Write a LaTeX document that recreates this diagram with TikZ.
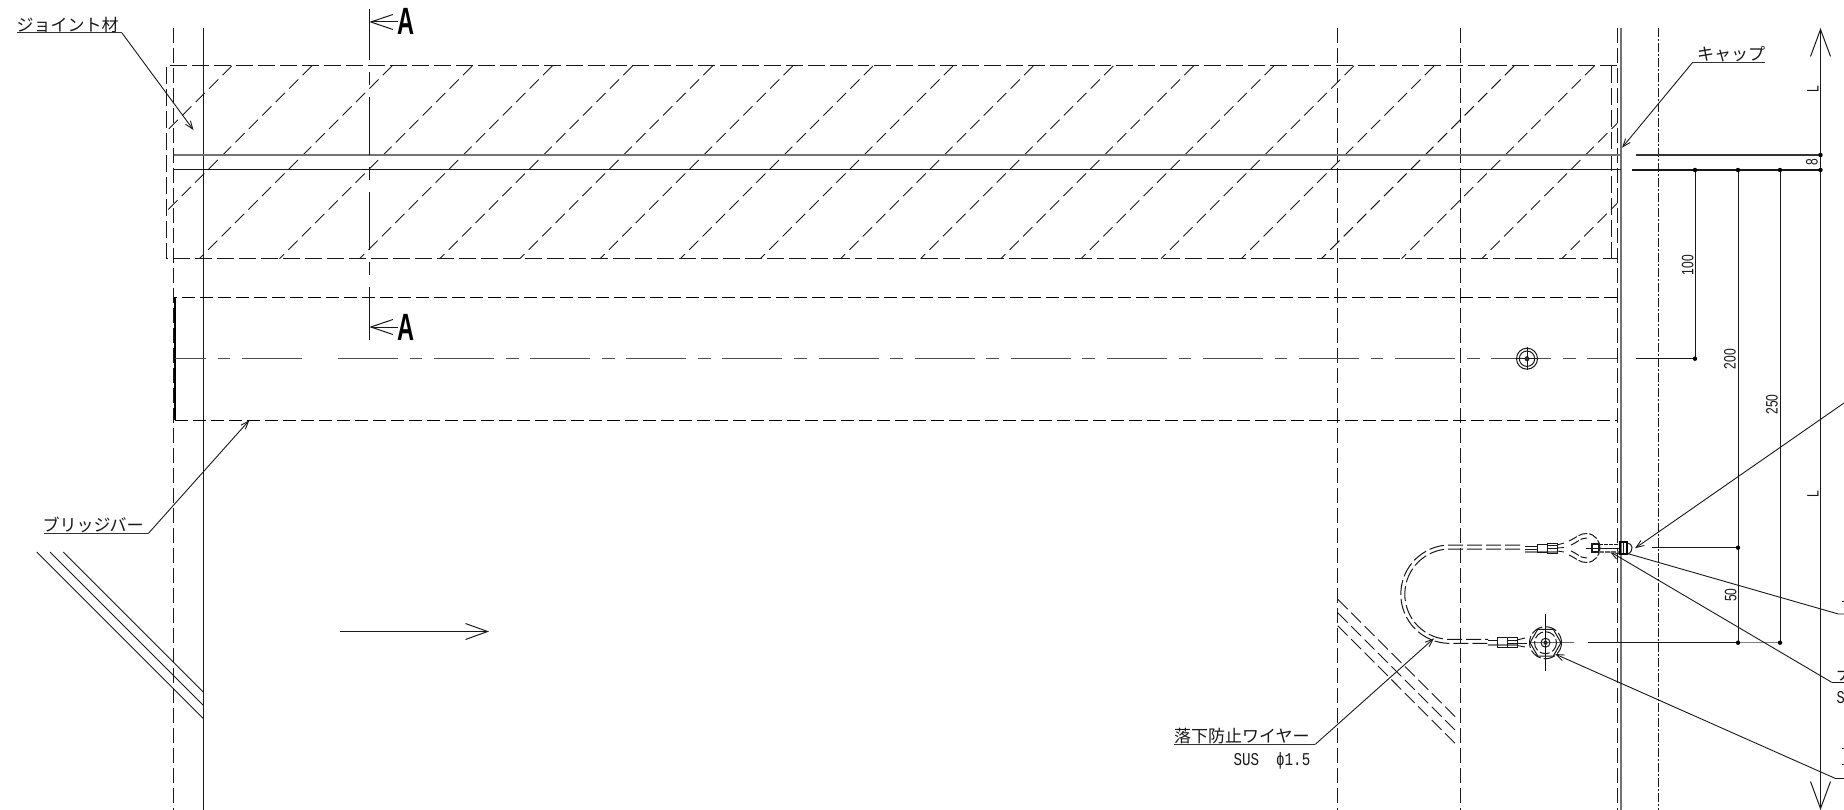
\documentclass[tikz,border=0pt]{standalone}
\usepackage{fontspec}
\setmainfont{Liberation Sans}
\newfontfamily\cjkfont{Noto Sans CJK JP}
\newfontfamily\monofont{Liberation Mono}
\usetikzlibrary{arrows.meta}
\tikzset{
  ln/.style={line width=1pt,draw=black!90},
  heavy/.style={line width=1.5pt,draw=black!55},
  darkln/.style={line width=1.4pt,draw=black!80},
  vdash/.style={ln,dash pattern=on 15pt off 5pt},
  rectdash/.style={ln,dash pattern=on 17pt off 5pt},
  bardash/.style={line width=1.1pt,draw=black,dash pattern=on 13pt off 5pt},
  hatchln/.style={line width=0.9pt,draw=black!90,dash pattern=on 13pt off 6pt},
  wire/.style={line width=1pt,draw=black!90,dash pattern=on 15pt off 4pt},
  fine/.style={line width=0.9pt,draw=black!90},
  eye/.style={line width=1pt,draw=black!90,dash pattern=on 9pt off 2pt},
  leader/.style={line width=0.9pt,draw=black!90,-{Straight Barb[length=8pt,width=6pt]}},
  plainleader/.style={line width=1pt,draw=black!80},
  bigtip/.style={ln,-{Straight Barb[length=22pt,width=15pt]}},
  ltip/.style={ln,{Straight Barb[length=27pt,width=20pt]}-{Straight Barb[length=27pt,width=20pt]}},
  dot/.style={circle,fill=black,inner sep=0pt,minimum size=4.4pt},
  cjk/.style={font=\cjkfont\fontsize{17pt}{18pt}\selectfont,inner sep=0pt,anchor=base west,text=black!90},
  dimt/.style={rotate=90,inner sep=0pt,anchor=center,text=black!90},
  bigA/.style={inner sep=0pt,anchor=center},
}
\newcommand{\dimtxt}[1]{\scalebox{0.73}[1]{\fontsize{16.5pt}{17pt}\selectfont #1}}
\newcommand{\secA}{\scalebox{0.62}[1]{\bfseries\fontsize{38pt}{38pt}\selectfont A}}
\begin{document}
\begin{tikzpicture}[x=1pt,y=-1pt]
\useasboundingbox[fill=white] (0,0) rectangle (1844,810);

% --- long verticals
\draw[ln] (203.7,28) -- (203.7,810);
\draw[vdash] (173.5,28) -- (173.5,810);
\draw[vdash] (1337.3,28) -- (1337.3,810);
\draw[vdash] (1460.3,28) -- (1460.3,810);
\draw[vdash] (1617.3,28) -- (1617.3,810);
\draw[heavy] (1621,28) -- (1621,810);
\draw[line width=0.85pt,draw=black!90,dash pattern=on 9pt off 2pt on 2pt off 2pt] (1658.7,28) -- (1658.7,810);

% --- joint hatch rectangle
\draw[rectdash] (1617,66) -- (166.5,66) -- (166.5,258.7) -- (1617,258.7);
\draw[rectdash] (1611,66) -- (1611,258.7);
\begin{scope}
  \clip (166.5,66) rectangle (1617.3,258.7);
  \foreach \k in {0,...,19}{
    \pgfmathsetmacro{\xt}{231.7+80.15*\k}
    \pgfmathsetmacro{\xb}{\xt-192.7}
    \draw[hatchln] (\xt,66) -- (\xb,258.7);
  }
\end{scope}

% --- horizontal joint lines
\draw[heavy] (173.5,155) -- (1621,155);
\draw[ln] (173.5,170) -- (1621,170);
\draw[darkln] (1636,155) -- (1820.5,155);
\draw[ln,line width=1.2pt] (1632,170) -- (1820.5,170);

% --- bridge bar
\draw[bardash] (1617,297.3) -- (175,297.3);
\draw[bardash] (175,420.3) -- (1617,420.3);
\draw[line width=1.1pt,draw=black] (175,297.3) -- (175,420.3);
\draw[line width=1.1pt,draw=black!70,dash pattern=on 60pt off 11.7pt on 12.7pt off 11.7pt,dash phase=29pt] (175,358.7) -- (302,358.7);
\draw[line width=1.1pt,draw=black!70,dash pattern=on 60pt off 11.7pt on 12.7pt off 11.7pt] (338,358.7) -- (1617,358.7);

% --- section line A-A
\draw[ln,dash pattern=on 58pt off 12pt on 13pt off 12pt,dash phase=7pt] (369.3,9) -- (369.3,340);
\coordinate (secTopTip) at (369.3,22);
\coordinate (secBotTip) at (369.3,327);
\node[bigA] (secTop) at (406.5,21.5) {\secA};
\node[bigA] (secBot) at (406.5,327) {\secA};
\draw[bigtip] (secTop.west |- secTopTip) -- (secTopTip);
\draw[bigtip] (secBot.west |- secBotTip) -- (secBotTip);

% --- dimensions
\coordinate (dL1) at (1695,170);
\coordinate (dL2) at (1738,170);
\coordinate (dL3) at (1780,170);
\coordinate (dLa) at (1820.5,155);
\coordinate (dLb) at (1820.5,170);
\coordinate (d100) at (1695,358.7);
\coordinate (d50) at (1738,547.7);
\coordinate (d200) at (1738,642.7);
\coordinate (d250) at (1780,642.7);
\draw[ltip] (1820.5,28) -- (1820.5,810);
\draw[ln] (dL1) -- (d100);
\draw[ln] (dL2) -- (d200);
\draw[ln] (dL3) -- (d250);
\draw[ln] (1636,358.7) -- (d100);
\draw[ln,line width=1.2pt] (1652,547.7) -- (d50);
\draw[ln,line width=1.2pt] (1588,642.7) -- (d200);
\draw[ln,draw=black!50] (d200) -- (d250);
\foreach \c in {dL1,dL2,dL3,dLa,dLb,d100,d50,d200,d250}{\node[dot] at (\c) {};}
\node[dimt] (tL1) at (1813,89) {\dimtxt{L}};
\node[dimt] (tL2) at (1813,494) {\dimtxt{L}};
\node[dimt] (t8) at (1812,162) {\dimtxt{8}};
\node[dimt] (t100) at (1687.7,265) {\dimtxt{100}};
\node[dimt] (t200) at (1730,359) {\dimtxt{200}};
\node[dimt] (t250) at (1772,404.6) {\dimtxt{250}};
\node[dimt] (t50) at (1730.7,595) {\dimtxt{50}};

% --- labels with leaders
\node[cjk] (lbJoint) at (16.5,31.3) {ジョイント材};
\coordinate (jA) at (17,33); \coordinate (jB) at (122,33); \coordinate (jT) at (193.5,130);
\draw[plainleader] (jA) -- (jB);
\draw[leader] (jB) -- (jT);

\node[cjk] (lbCap) at (1697,61) {キャップ};
\coordinate (cA) at (1765,62.3); \coordinate (cB) at (1692.7,62.3); \coordinate (cT) at (1622,147.7);
\draw[plainleader] (cA) -- (cB);
\draw[leader] (cB) -- (cT);

\node[cjk] (lbBar) at (42.5,531.5) {ブリッジバー};
\coordinate (bA) at (43.7,533.5); \coordinate (bB) at (148.3,533.5); \coordinate (bT) at (249.3,420.3);
\draw[plainleader] (bA) -- (bB);
\draw[leader] (bB) -- (bT);

\node[cjk] (lbWire) at (1174,742.5) {落下防止ワイヤー};
\node[inner sep=0pt,anchor=base east,text=black!90] (lbSus) at (1310.5,765) {\scalebox{0.79}[1]{\monofont\fontsize{18pt}{18pt}\selectfont SUS\ \ ϕ1.5}};
\coordinate (wA) at (1174.3,744.3); \coordinate (wB) at (1315.3,744.3); \coordinate (wT) at (1434,638.3);
\draw[plainleader] (wA) -- (wB);
\draw[leader] (wB) -- (wT);

% --- leaders running off the right edge
\coordinate (r1a) at (1844,403); \coordinate (r1t) at (1635,548.3);
\draw[leader] (r1a) -- (r1t);
\coordinate (r2a) at (1844,614); \coordinate (r2b) at (1838.3,614); \coordinate (r2t) at (1626.7,553.3);
\draw[fine] (r2a) -- (r2b) -- (r2t);
\coordinate (r3a) at (1844,682.3); \coordinate (r3b) at (1831.7,682.3); \coordinate (r3t) at (1610,551.7);
\draw[fine] (r3a) -- (r3b);
\draw[leader] (r3b) -- (r3t);
\coordinate (r4a) at (1844,778.3); \coordinate (r4b) at (1835,778.3); \coordinate (r4t) at (1555,654);
\draw[fine] (r4a) -- (r4b);
\draw[leader] (r4b) -- (r4t);
\node[cjk] (lbR3) at (1836,680.5) {ナ};
\node[inner sep=0pt,anchor=base west,text=black!90] (lbR3b) at (1836.5,703) {\scalebox{0.76}[1]{\monofont\fontsize{18pt}{18pt}\selectfont S}};
\draw[fine] (1842,601) -- (1844,601);
\draw[fine] (1842,748) -- (1844,748);
\draw[fine] (1842,764) -- (1844,764);

% --- diagonal break lines, left
\coordinate (gA1) at (36.7,552); \coordinate (gB1) at (203.7,719);
\coordinate (gA2) at (50,552); \coordinate (gB2) at (203.7,705.7);
\coordinate (gA3) at (63.3,552); \coordinate (gB3) at (203.7,692.4);
\draw[fine] (gA1) -- (gB1);
\draw[fine] (gA2) -- (gB2);
\draw[fine] (gA3) -- (gB3);

% --- flow arrow
\coordinate (fA) at (340,631.5); \coordinate (fB) at (489,631.5);
\draw[ln,-{Straight Barb[length=22pt,width=16pt]}] (fA) -- (fB);

% --- hidden diagonal lines
\draw[hatchln,dash pattern=on 14pt off 5pt] (1337.7,599.3) -- (1456.7,718.3);
\draw[hatchln,dash pattern=on 14pt off 5pt] (1337.7,612.7) -- (1456.7,731.7);
\draw[hatchln,dash pattern=on 14pt off 5pt] (1337.7,625.7) -- (1456.7,745);

% --- centre fastener on bar
\draw[ln] (1527,347) -- (1527,370);
\draw[ln] (1516,358.7) -- (1538,358.7);
\draw[fine,line width=1pt] (1527,358.7) circle[radius=10.5];
\draw[fine,line width=1pt] (1527,358.7) circle[radius=7.7];
\draw[fill=black!80,draw=black] (1527,358.7) circle[radius=2.2];

% --- wire loop
\draw[wire] (1520,545) -- (1450,545) .. controls (1422.8,545) and (1400.8,567) .. (1400.8,594.2)
   .. controls (1400.8,621.4) and (1422.8,643.4) .. (1450,643.4) -- (1488,643.4);
\draw[wire] (1520,549) -- (1450,549) .. controls (1425,549) and (1404.8,569.2) .. (1404.8,594.2)
   .. controls (1404.8,619.2) and (1425,639.4) .. (1450,639.4) -- (1488,639.4);

% --- upper ferrule
\draw[ln] (1525,546) -- (1537,546);
\draw[ln] (1525,549.5) -- (1537,549.5);
\draw[line width=1.4pt,draw=black!50] (1525,552) -- (1557,552);
\draw[ln] (1537,544) rectangle (1547,552);
\draw[ln] (1547,543) rectangle (1557,553);
\draw[fine] (1547,545.5) -- (1557,545.5);
\draw[fine] (1547,548) -- (1557,548);
\draw[fine] (1557,545) -- (1564,543);
\draw[fine] (1557,548) -- (1564,547.5);
\draw[fine] (1557,551) -- (1564,552);

% --- upper eye
\draw[eye] (1569,541) .. controls (1576,538) and (1580,533) .. (1587,533.5) .. controls (1595,534) and (1600,541) .. (1600,548);
\draw[eye] (1569,555) .. controls (1576,558) and (1580,563) .. (1587,562.5) .. controls (1595,562) and (1600,555) .. (1600,548);
\draw[eye] (1571,545) .. controls (1578,542) and (1580,538) .. (1587,538);
\draw[eye] (1571,551) .. controls (1578,554) and (1580,558) .. (1587,558);

% --- upper bolt
\draw[ln] (1586,548) -- (1620,548);
\draw[line width=1.2pt,draw=black!90] (1592,544) rectangle (1599,552);
\draw[fine,dash pattern=on 4pt off 1pt] (1599,544.5) -- (1620,544.5);
\draw[line width=1.4pt,draw=black!60,dash pattern=on 5pt off 1pt] (1599,552) -- (1620,552);
\draw[line width=1.2pt,draw=black] (1620,542) rectangle (1627,554);
\draw[ln] (1623.5,542) -- (1623.5,554);
\draw[ln] (1627,543) .. controls (1633,543) and (1634,551) .. (1628,554);

% --- lower ferrule
\draw[ln] (1488,640.5) -- (1497,640.5);
\draw[line width=1.4pt,draw=black!50] (1488,645) -- (1517,645);
\draw[ln] (1497,637.5) rectangle (1507,647);
\draw[ln] (1507,637) rectangle (1517,647.5);
\draw[fine] (1507,640) -- (1517,640);
\draw[fine] (1507,643) -- (1517,643);
\draw[fine] (1517,640) -- (1525,638);
\draw[fine] (1517,643) -- (1527,643);
\draw[fine] (1517,645.5) -- (1525,647);

% --- lower eye
\draw[line width=1.3pt,draw=black] (1545.5,614) -- (1545.5,670.7);
\draw[line width=1.1pt,draw=black!60] (1530,642.7) -- (1574,642.7);
\begin{scope}[shift={(1545.5,642.7)}]
  \draw[ln] (0:15.5) -- (60:15.5) -- (120:15.5) -- (180:15.5) -- (240:15.5) -- (300:15.5) -- cycle;
  \draw[eye,dash pattern=on 12pt off 3pt] (0,0) circle[radius=16];
  \draw[eye,dash pattern=on 10pt off 3pt] (0,0) circle[radius=11];
  \draw[ln] (0,0) circle[radius=4.5];
  \fill[black!85] (0,0) circle[radius=2.2];
\end{scope}
\end{tikzpicture}
\end{document}
